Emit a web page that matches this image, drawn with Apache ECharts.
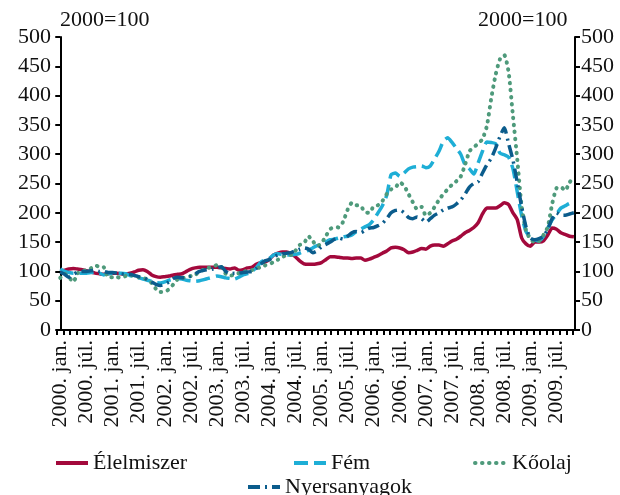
<!DOCTYPE html>
<html>
<head>
<meta charset="utf-8">
<script src="https://cdn.jsdelivr.net/npm/echarts@6/dist/echarts.min.js"></script>
<style>
  html, body { margin: 0; padding: 0; background: #fff; }
  #chart { width: 620px; height: 495px; }
</style>
</head>
<body>
<div id="chart"></div>
<script>
// monthly index values, 2000 jan .. 2009 nov (2000 = 100)
const years = [2000, 2001, 2002, 2003, 2004, 2005, 2006, 2007, 2008, 2009];
const seriesNames = ['Élelmiszer', 'Fém', 'Kőolaj', 'Nyersanyagok'];

const food = [
  100, 102, 104, 105, 104, 103, 101, 99, 97, 96, 95, 96,
  97, 97, 96, 96, 97, 99, 102, 103, 100, 94, 91, 90,
  91, 92, 94, 95, 96, 100, 104, 106, 107, 107, 107, 107,
  107, 106, 105, 104, 106, 102, 103, 106, 107, 112, 115, 116,
  120, 128, 131, 133, 133, 130, 125, 118, 113, 112, 112, 113,
  115, 120, 125, 125, 124, 123, 123, 122, 123, 123, 119, 121,
  124, 127, 131, 135, 140, 141, 140, 137, 132, 133, 136, 139,
  138, 143, 145, 145, 143, 147, 152, 155, 160, 166, 170, 175,
  183, 198, 208, 208, 208, 212, 217, 214, 200, 188, 157, 147,
  143, 150, 150, 152, 162, 174, 172, 166, 163, 160, 159
];
const metal = [
  104, 100, 98, 97, 97, 97, 97, 98, 99, 97, 94, 96,
  97, 97, 97, 96, 93, 91, 89, 87, 85, 83, 81, 80,
  82, 85, 87, 88, 87, 85, 84, 83, 84, 86, 88, 90,
  92, 91, 89, 88, 87, 90, 94, 96, 100, 106, 115, 120,
  122, 128, 130, 129, 128, 128, 129, 131, 134, 136, 140, 144,
  145, 150, 154, 155, 157, 159, 160, 162, 168, 172, 176, 180,
  188, 200, 212, 230, 265, 268, 262, 268, 275, 278, 279, 280,
  277, 280, 292, 305, 322, 328, 320, 310, 300, 282, 275, 266,
  285, 305, 321, 320, 318, 302, 299, 295, 275, 235, 195, 168,
  158, 154, 152, 160, 174, 188, 198, 208, 212, 216, 218
];
const oil = [
  89, 96, 90, 82, 97, 100, 102, 105, 110, 108, 107, 90,
  90, 90, 89, 92, 94, 92, 90, 89, 86, 80, 70, 65,
  65, 70, 78, 87, 89, 90, 92, 94, 100, 103, 106, 107,
  111, 108, 96, 93, 94, 97, 99, 101, 102, 105, 107, 110,
  112, 116, 120, 124, 128, 128, 135, 145, 148, 160, 152, 143,
  148, 160, 172, 176, 175, 185, 205, 217, 213, 212, 201, 200,
  211, 213, 220, 232, 240, 243, 252, 246, 232, 218, 206, 210,
  195, 200, 210, 222, 232, 240, 248, 254, 262, 282, 305, 312,
  318, 326, 348, 395, 435, 462, 469, 440, 365, 290, 210, 170,
  155, 150, 152, 162, 176, 215, 242, 244, 238, 252, 261
];
const rawMat = [
  99, 95, 90, 95, 99, 100, 100, 101, 102, 100, 100, 98,
  98, 97, 96, 95, 95, 93, 91, 90, 86, 82, 78, 76,
  78, 82, 88, 90, 89, 90, 92, 96, 100, 102, 103, 104,
  106, 108, 100, 96, 97, 97, 98, 99, 100, 105, 112, 118,
  120, 125, 128, 130, 131, 132, 135, 138, 140, 138, 132, 135,
  142, 146, 150, 155, 157, 155, 160, 166, 168, 166, 170, 174,
  175, 178, 182, 190, 200, 204, 205, 200, 192, 190, 193, 190,
  184, 190, 196, 200, 205, 208, 210, 215, 222, 232, 244, 250,
  253, 268, 282, 293, 310, 330, 345, 318, 290, 251, 210, 176,
  157, 154, 156, 160, 172, 190, 200, 196, 196, 198, 200
];

const colors = ['#a3093c', '#1eaed6', '#4e9a7b', '#0b5c8c'];

// month index helpers: labels every 6 months, ticks every 1.5 months
const labelMonths = [];
years.forEach((y, i) => { labelMonths.push(i * 12, i * 12 + 6); });
const tickMonths = [];
for (let k = 0; k < 80; k++) tickMonths.push(-0.75 + k * 1.5);

const FONT = "'Liberation Serif', 'DejaVu Serif', serif";
const toPairs = arr => arr.map((v, i) => [i, v]);

const chart = echarts.init(document.getElementById('chart'), null, { renderer: 'canvas' });

const axisY = (pos) => ({
  type: 'value', position: pos, min: 0, max: 500, interval: 50,
  axisLine: { show: true, lineStyle: { color: '#000', width: 2 } },
  axisTick: { show: true, length: 5, lineStyle: { color: '#000', width: 2 } },
  axisLabel: { color: '#111', fontSize: 22, fontFamily: FONT, margin: 6 },
  splitLine: { show: false },
});

const lineDefs = [
  { data: food, type: 'solid', cap: 'butt', width: 3.5 },
  { data: metal, type: [14, 6], cap: 'butt', width: 3.5 },
  { data: oil, type: [0.5, 6.5], cap: 'round', width: 4 },
  { data: rawMat, type: [12, 5, 2, 5], cap: 'butt', width: 3.5 },
];

const legendPos = [
  { left: 49, top: 447 },
  { left: 287, top: 447 },
  { left: 468, top: 447 },
  { left: 241, top: 471 },
];

chart.setOption({
  backgroundColor: '#fff',
  animation: false,
  grid: { left: 57, right: 45, top: 37, bottom: 165 },
  graphic: [
    { type: 'text', left: 60, top: 9, style: { text: '2000=100', font: '22px ' + FONT, fill: '#111' } },
    { type: 'text', left: 478, top: 9, style: { text: '2000=100', font: '22px ' + FONT, fill: '#111' } },
  ],
  legend: seriesNames.map((n, i) => ({
    data: [n], left: legendPos[i].left, top: legendPos[i].top,
    itemWidth: 32, itemHeight: 14, itemGap: 4,
    itemStyle: { opacity: 0 },
    lineStyle: { width: 4 },
    textStyle: { fontSize: 22, fontFamily: FONT, color: '#111' },
  })),
  xAxis: {
    type: 'value', min: -0.75, max: 118.25,
    axisLine: { show: true, onZero: false, lineStyle: { color: '#000', width: 2 } },
    axisTick: { show: true, length: 5, customValues: tickMonths, lineStyle: { color: '#000', width: 2 } },
    axisLabel: {
      customValues: labelMonths, rotate: 90, margin: 10,
      color: '#111', fontSize: 22, fontFamily: FONT,
      formatter: v => years[Math.floor(v / 12)] + '. ' + (v % 12 === 0 ? 'jan.' : 'júl.'),
    },
    splitLine: { show: false },
  },
  yAxis: [axisY('left'), axisY('right')],
  series: lineDefs.map((d, i) => ({
    name: seriesNames[i], type: 'line', yAxisIndex: 0,
    data: toPairs(d.data), symbol: 'none', smooth: 0.2,
    itemStyle: { color: colors[i] },
    lineStyle: { color: colors[i], width: d.width, type: d.type, cap: d.cap, join: 'round' },
  })),
});
</script>
</body>
</html>
